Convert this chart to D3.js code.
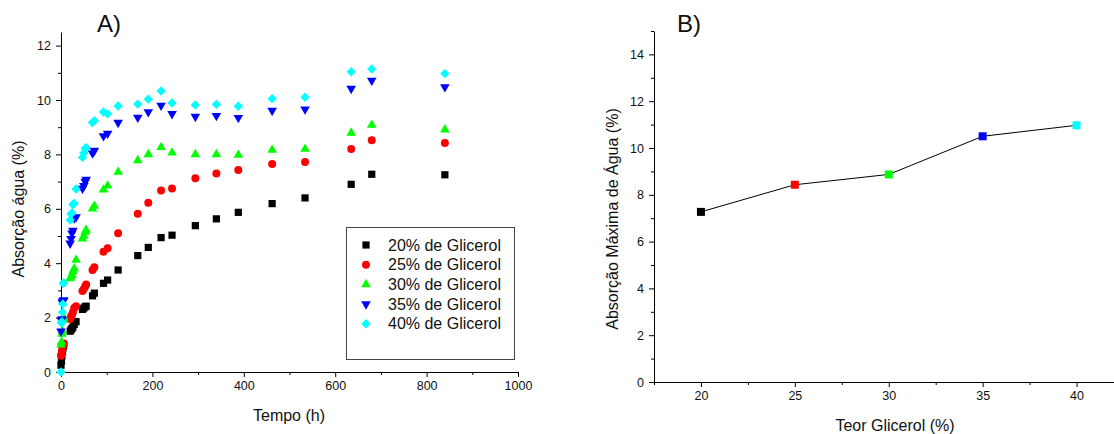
<!DOCTYPE html>
<meta charset="utf-8">
<script src="https://cdn.jsdelivr.net/npm/d3@7"></script>
<style>
    body { margin: 0; background: #fff; }
    text { font-family: Arial, "Liberation Sans", sans-serif; fill: #111; }
</style>

<div id="my_dataviz"></div>

<script>
    // ---- dados: grafico A (absorcao x tempo)
    const tempo = [0, 1, 2, 3, 4, 5, 6, 20, 22, 24, 26, 29, 33, 47, 50, 53, 55, 69, 73, 93, 102, 125,
        168, 191, 219, 243, 294, 340, 388, 462, 534, 635, 680, 840];

    const gli20 = [0.25, 0.4, 0.6, 0.75, 0.85, 0.95, 1.0, 1.5, 1.55, 1.6, 1.65, 1.75, 1.85, 2.3, 2.35, 2.4, 2.42,
        2.8, 2.9, 3.26, 3.38, 3.75, 4.28, 4.58, 4.94, 5.03, 5.38, 5.63, 5.87, 6.19, 6.4, 6.9, 7.27, 7.25];
    const gli25 = [0.6, 0.65, 0.75, 0.85, 0.95, 1.0, 1.05, 1.95, 2.05, 2.1, 2.2, 2.35, 2.42, 2.98, 3.05, 3.14, 3.22,
        3.75, 3.85, 4.42, 4.55, 5.1, 5.82, 6.22, 6.67, 6.75, 7.12, 7.3, 7.43, 7.65, 7.72, 8.2, 8.52, 8.42];
    const gli30 = [1.0, 1.1, 1.4, 1.5, 1.9, 1.95, 2.0, 3.44, 3.5, 3.57, 3.7, 3.8, 4.12, 4.9, 5.0, 5.15, 5.22,
        6.0, 6.1, 6.7, 6.85, 7.35, 7.78, 8.0, 8.26, 8.06, 8.0, 8.0, 7.98, 8.16, 8.2, 8.79, 9.08, 8.91];
    const gli35 = [1.5, 1.9, 1.95, 2.55, 2.6, 2.62, 2.65, 4.73, 4.9, 5.1, 5.2, 5.65, 5.7, 6.75, 6.85, 7.0, 7.08,
        8.04, 8.14, 8.68, 8.77, 9.17, 9.36, 9.56, 9.8, 9.49, 9.39, 9.42, 9.35, 9.61, 9.66, 10.42, 10.72, 10.48];
    const gli40 = [0.0, 1.8, 1.85, 2.2, 2.5, 3.25, 3.28, 5.59, 5.81, 5.85, 6.16, 6.2, 6.73, 7.89, 8.05, 8.22, 8.25,
        9.17, 9.24, 9.56, 9.49, 9.78, 9.85, 10.03, 10.33, 9.89, 9.82, 9.84, 9.77, 10.05, 10.1, 11.04, 11.14, 10.97];

    const rotulos = ["20% de Glicerol", "25% de Glicerol", "30% de Glicerol", "35% de Glicerol", "40% de Glicerol"];
    const cores = ["#000000", "#ff0000", "#00ff00", "#0000ff", "#00ffff"];

    const xTicksA = [0, 200, 400, 600, 800, 1000];
    const yTicksA = [0, 2, 4, 6, 8, 10, 12];

    // ---- dados: grafico B (absorcao maxima x teor)
    const teor = [20, 25, 30, 35, 40];
    const absMax = [7.27, 8.43, 8.87, 10.5, 10.97];

    const xTicksB = [20, 25, 30, 35, 40];
    const yTicksB = [0, 2, 4, 6, 8, 10, 12, 14];

    let width = 1114, height = 434;

    let svg = d3.select("#my_dataviz").append("svg")
        .attr("width", width)
        .attr("height", height)
    ;

    // simbolos de cada serie
    const simbolos = [
        {type: d3.symbolSquare, size: 52, rot: 0},
        {type: d3.symbolCircle, size: 50, rot: 0},
        {type: d3.symbolTriangle, size: 40, rot: 0},
        {type: d3.symbolTriangle, size: 40, rot: 180},
        {type: d3.symbolSquare, size: 44, rot: 45}
    ];

    const drawAxes = (g, xScale, yScale, xMajor, xMinor, yMajor, yMinor) => {
        let xAxis = d3.axisBottom(xScale).tickValues(xMajor).tickSize(5).tickSizeOuter(0).tickPadding(4)
            .tickFormat(d3.format("d"));
        let xMin = d3.axisBottom(xScale).tickValues(xMinor).tickSize(3).tickFormat("");
        let yAxis = d3.axisLeft(yScale).tickValues(yMajor).tickSize(5).tickSizeOuter(0).tickPadding(5)
            .tickFormat(d3.format("d"));
        let yMin = d3.axisLeft(yScale).tickValues(yMinor).tickSize(3).tickFormat("");

        let gx = g.append("g").attr("transform", `translate(0,${yScale.range()[0]})`);
        gx.call(xAxis);
        gx.append("g").call(xMin).select(".domain").remove();

        let gy = g.append("g").attr("transform", `translate(${xScale.range()[0]},0)`);
        gy.call(yAxis);
        gy.append("g").call(yMin).select(".domain").remove();

        g.selectAll(".tick text")
            .style("font-size", "12.5px")
            .style("font-family", "Arial, 'Liberation Sans', sans-serif")
            .attr("fill", "#111");
        g.selectAll(".domain, .tick line").attr("stroke", "#000");
    };

    // ================= A =================
    let gA = svg.append("g");

    let xA = d3.scaleLinear().domain([0, 1000]).range([61, 518]);
    let yA = d3.scaleLinear().domain([0, 12.5]).range([372, 32]);

    drawAxes(gA, xA, yA, xTicksA, [100, 300, 500, 700, 900], yTicksA, [1, 3, 5, 7, 9, 11]);

    const series = [gli20, gli25, gli30, gli35, gli40];

    series.forEach((vals, i) => {
        let s = simbolos[i];
        gA.append("g")
            .selectAll("path")
            .data(tempo.map((t, j) => ({t: t, v: vals[j]})))
            .enter()
            .append("path")
            .attr("d", d3.symbol().type(s.type).size(s.size))
            .attr("transform", d => `translate(${xA(d.t)},${yA(d.v)}) rotate(${s.rot})`)
            .style("fill", cores[i])
        ;
    });

    gA.append("text")
        .attr("x", 109).attr("y", 32)
        .attr("text-anchor", "middle")
        .style("font-size", "24px")
        .text("A)");

    gA.append("text")
        .attr("x", 289).attr("y", 421)
        .attr("text-anchor", "middle")
        .style("font-size", "16px")
        .text("Tempo (h)");

    gA.append("text")
        .attr("transform", "translate(24,209) rotate(-90)")
        .attr("text-anchor", "middle")
        .style("font-size", "16px")
        .text("Absorção água (%)");

    // legenda
    let leg = gA.append("g");
    leg.append("rect")
        .attr("x", 346.5).attr("y", 227.5)
        .attr("width", 168).attr("height", 132)
        .attr("fill", "#fff")
        .attr("stroke", "#444");

    rotulos.forEach((r, i) => {
        let y = 245 + i * 19.7;
        let s = simbolos[i];
        leg.append("path")
            .attr("d", d3.symbol().type(s.type).size(s.size))
            .attr("transform", `translate(366,${y}) rotate(${s.rot})`)
            .style("fill", cores[i]);
        leg.append("text")
            .attr("x", 388).attr("y", y + 5.5)
            .style("font-size", "16px")
            .text(r);
    });

    // ================= B =================
    let gB = svg.append("g");

    let xB = d3.scaleLinear().domain([17.5, 42.5]).range([654, 654 + 25 * 18.78]);
    let yB = d3.scaleLinear().domain([0, 15]).range([382, 31]);

    drawAxes(gB, xB, yB, xTicksB, [17.5, 22.5, 27.5, 32.5, 37.5, 42.5], yTicksB, [1, 3, 5, 7, 9, 11, 13, 15]);

    const dadosB = teor.map((t, i) => ({t: t, v: absMax[i], c: cores[i]}));

    gB.append("path")
        .datum(dadosB)
        .attr("fill", "none")
        .attr("stroke", "#000")
        .attr("stroke-width", 1)
        .attr("d", d3.line().x(d => xB(d.t)).y(d => yB(d.v)));

    gB.selectAll("rect.pt")
        .data(dadosB)
        .enter()
        .append("rect")
        .attr("class", "pt")
        .attr("x", d => xB(d.t) - 4)
        .attr("y", d => yB(d.v) - 4)
        .attr("width", 8).attr("height", 8)
        .style("fill", d => d.c);

    gB.append("text")
        .attr("x", 677).attr("y", 32)
        .style("font-size", "24px")
        .text("B)");

    gB.append("text")
        .attr("x", 895).attr("y", 431)
        .attr("text-anchor", "middle")
        .style("font-size", "16px")
        .text("Teor Glicerol (%)");

    gB.append("text")
        .attr("transform", "translate(618,219) rotate(-90)")
        .attr("text-anchor", "middle")
        .style("font-size", "16px")
        .text("Absorção Máxima de Água (%)");
</script>
